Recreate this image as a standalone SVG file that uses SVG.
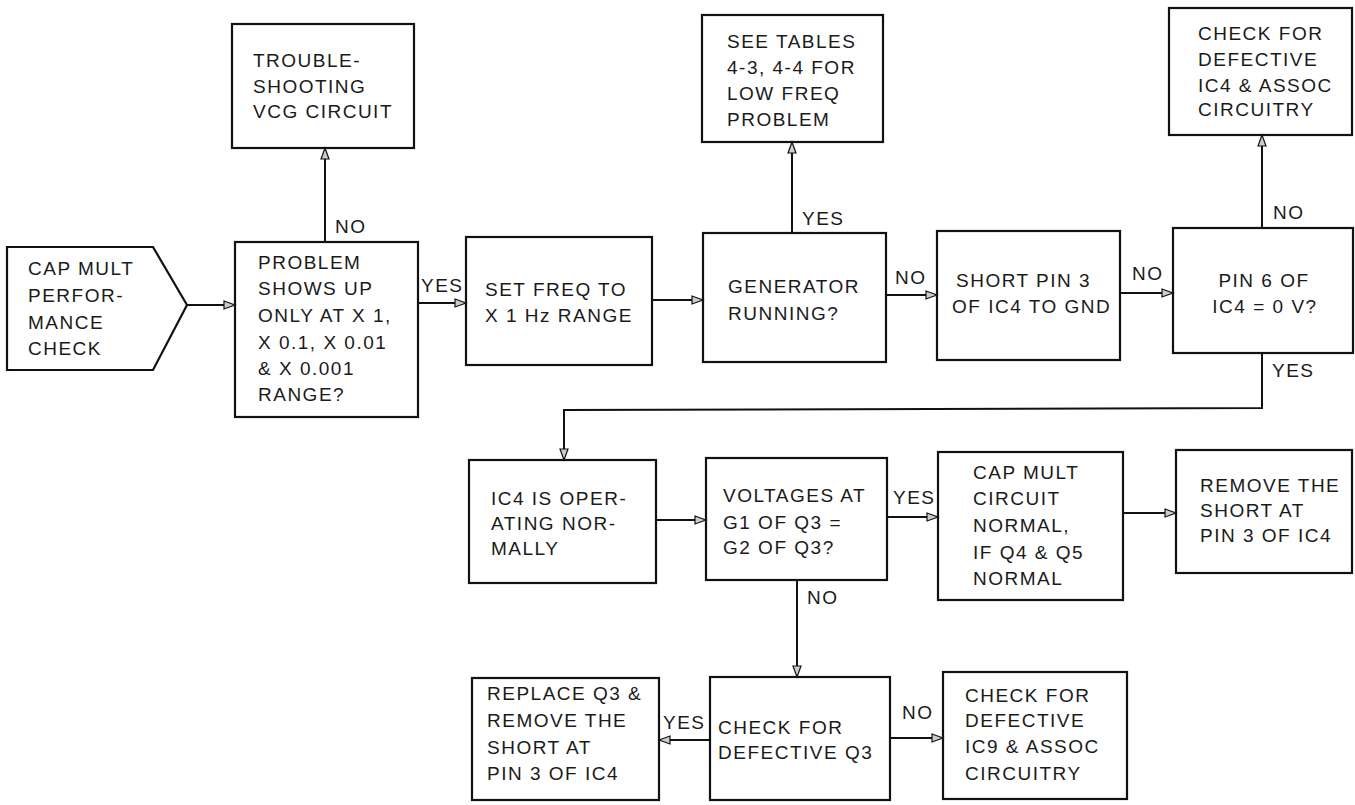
<svg xmlns="http://www.w3.org/2000/svg" width="1355" height="805" viewBox="0 0 1355 805">
<style>
.box{fill:#fff;stroke:#111;stroke-width:2.2}
.t{font-family:"Liberation Sans",Arial,sans-serif;font-size:19px;letter-spacing:1.5px;fill:#1a1a1a}
.c{text-anchor:middle}
.ln{fill:none;stroke:#111;stroke-width:2}
</style>
<defs>
<marker id="ah" markerUnits="userSpaceOnUse" markerWidth="14" markerHeight="10" refX="12" refY="5" orient="auto">
<path d="M1,1 L12,5 L1,9 Z" fill="#ccc" stroke="#111" stroke-width="1.2"/>
</marker>
</defs>
<rect width="1355" height="805" fill="#fff"/>

<g id="start">
<polygon class="box" points="7,247 153,247 187,305 153,370 7,370"/>
<text class="t" x="28" y="275">CAP MULT</text>
<text class="t" x="28" y="302">PERFOR-</text>
<text class="t" x="28" y="329">MANCE</text>
<text class="t" x="28" y="355">CHECK</text>
</g>

<g id="troubleshoot">
<rect class="box" x="232" y="24" width="182" height="124"/>
<text class="t" x="253" y="67">TROUBLE-</text>
<text class="t" x="253" y="93">SHOOTING</text>
<text class="t" x="253" y="118">VCG CIRCUIT</text>
</g>

<g id="problem">
<rect class="box" x="235" y="242" width="183" height="175"/>
<text class="t" x="258" y="269">PROBLEM</text>
<text class="t" x="258" y="295">SHOWS UP</text>
<text class="t" x="258" y="322">ONLY AT X 1,</text>
<text class="t" x="258" y="349">X 0.1, X 0.01</text>
<text class="t" x="258" y="375">&amp; X 0.001</text>
<text class="t" x="258" y="401">RANGE?</text>
</g>

<g id="setfreq">
<rect class="box" x="466" y="237" width="186" height="128"/>
<text class="t" x="485" y="296">SET FREQ TO</text>
<text class="t" x="485" y="322">X 1 Hz RANGE</text>
</g>

<g id="seetables">
<rect class="box" x="702" y="15" width="181" height="127"/>
<text class="t" x="727" y="48">SEE TABLES</text>
<text class="t" x="727" y="74">4-3, 4-4 FOR</text>
<text class="t" x="727" y="100">LOW FREQ</text>
<text class="t" x="727" y="126">PROBLEM</text>
</g>

<g id="generator">
<rect class="box" x="703" y="233" width="183" height="129"/>
<text class="t" x="728" y="293">GENERATOR</text>
<text class="t" x="728" y="320">RUNNING?</text>
</g>

<g id="shortpin">
<rect class="box" x="937" y="231" width="183" height="129"/>
<text class="t" x="956" y="287">SHORT PIN 3</text>
<text class="t" x="952" y="313">OF IC4 TO GND</text>
</g>

<g id="checkic4">
<rect class="box" x="1169" y="8" width="183" height="127"/>
<text class="t" x="1198" y="40">CHECK FOR</text>
<text class="t" x="1198" y="66">DEFECTIVE</text>
<text class="t" x="1198" y="92">IC4 &amp; ASSOC</text>
<text class="t" x="1198" y="116">CIRCUITRY</text>
</g>

<g id="pin6">
<rect class="box" x="1173" y="228" width="180" height="125"/>
<text class="t c" x="1264" y="287">PIN 6 OF</text>
<text class="t c" x="1265" y="313">IC4 = 0 V?</text>
</g>

<g id="ic4normal">
<rect class="box" x="469" y="460" width="187" height="123"/>
<text class="t" x="491" y="505">IC4 IS OPER-</text>
<text class="t" x="491" y="530">ATING NOR-</text>
<text class="t" x="491" y="555">MALLY</text>
</g>

<g id="voltages">
<rect class="box" x="706" y="458" width="181" height="122"/>
<text class="t" x="723" y="502">VOLTAGES AT</text>
<text class="t" x="723" y="529">G1 OF Q3 =</text>
<text class="t" x="723" y="554">G2 OF Q3?</text>
</g>

<g id="capnormal">
<rect class="box" x="938" y="452" width="185" height="148"/>
<text class="t" x="973" y="479">CAP MULT</text>
<text class="t" x="973" y="505">CIRCUIT</text>
<text class="t" x="973" y="532">NORMAL,</text>
<text class="t" x="973" y="559">IF Q4 &amp; Q5</text>
<text class="t" x="973" y="585">NORMAL</text>
</g>

<g id="removeshort">
<rect class="box" x="1176" y="450" width="176" height="123"/>
<text class="t" x="1200" y="492">REMOVE THE</text>
<text class="t" x="1200" y="517">SHORT AT</text>
<text class="t" x="1200" y="542">PIN 3 OF IC4</text>
</g>

<g id="checkq3">
<rect class="box" x="710" y="677" width="180" height="123"/>
<text class="t" x="718" y="734">CHECK FOR</text>
<text class="t" x="718" y="759">DEFECTIVE Q3</text>
</g>

<g id="replaceq3">
<rect class="box" x="472" y="678" width="187" height="122"/>
<text class="t" x="487" y="700">REPLACE Q3 &amp;</text>
<text class="t" x="487" y="727">REMOVE THE</text>
<text class="t" x="487" y="754">SHORT AT</text>
<text class="t" x="487" y="780">PIN 3 OF IC4</text>
</g>

<g id="checkic9">
<rect class="box" x="943" y="672" width="184" height="127"/>
<text class="t" x="965" y="702">CHECK FOR</text>
<text class="t" x="965" y="727">DEFECTIVE</text>
<text class="t" x="965" y="753">IC9 &amp; ASSOC</text>
<text class="t" x="965" y="780">CIRCUITRY</text>
</g>

<g id="connectors">
<line class="ln" x1="187" y1="305" x2="235" y2="305" marker-end="url(#ah)"/>
<line class="ln" x1="325" y1="242" x2="325" y2="148" marker-end="url(#ah)"/>
<line class="ln" x1="418" y1="303" x2="466" y2="303" marker-end="url(#ah)"/>
<line class="ln" x1="652" y1="300" x2="703" y2="300" marker-end="url(#ah)"/>
<line class="ln" x1="792" y1="233" x2="792" y2="142" marker-end="url(#ah)"/>
<line class="ln" x1="886" y1="295" x2="937" y2="295" marker-end="url(#ah)"/>
<line class="ln" x1="1120" y1="293" x2="1173" y2="293" marker-end="url(#ah)"/>
<line class="ln" x1="1262" y1="228" x2="1262" y2="135" marker-end="url(#ah)"/>
<polyline class="ln" points="1262,353 1262,408 564,410 564,460" marker-end="url(#ah)"/>
<line class="ln" x1="656" y1="520" x2="706" y2="520" marker-end="url(#ah)"/>
<line class="ln" x1="887" y1="517" x2="938" y2="517" marker-end="url(#ah)"/>
<line class="ln" x1="1123" y1="513" x2="1176" y2="513" marker-end="url(#ah)"/>
<line class="ln" x1="797" y1="580" x2="797" y2="677" marker-end="url(#ah)"/>
<line class="ln" x1="710" y1="740" x2="659" y2="740" marker-end="url(#ah)"/>
<line class="ln" x1="890" y1="738" x2="943" y2="738" marker-end="url(#ah)"/>
<text class="t" x="335" y="233">NO</text>
<text class="t" x="421" y="292">YES</text>
<text class="t" x="802" y="225">YES</text>
<text class="t" x="895" y="284">NO</text>
<text class="t" x="1132" y="280">NO</text>
<text class="t" x="1273" y="219">NO</text>
<text class="t" x="1272" y="377">YES</text>
<text class="t" x="893" y="504">YES</text>
<text class="t" x="807" y="604">NO</text>
<text class="t" x="663" y="729">YES</text>
<text class="t" x="902" y="719">NO</text>
</g>
</svg>
